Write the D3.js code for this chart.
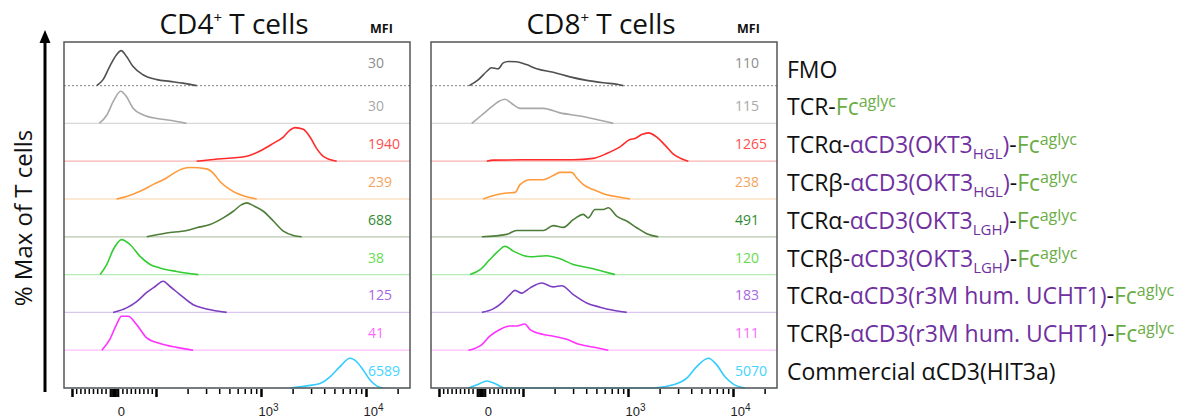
<!DOCTYPE html>
<html>
<head>
<meta charset="utf-8">
<script src="https://cdn.jsdelivr.net/npm/d3@7"></script>
<style>
  body { margin: 0; background: #fff; }
  text { font-family: "Open Sans", sans-serif; }
</style>
</head>
<body>
<script>
// rows, top to bottom
const samples = ['FMO', 'TCR-Fc', 'TCRa-OKT3 HGL', 'TCRb-OKT3 HGL', 'TCRa-OKT3 LGH', 'TCRb-OKT3 LGH', 'TCRa-UCHT1', 'TCRb-UCHT1', 'HIT3a'];
const mfiCD4 = [30, 30, 1940, 239, 688, 38, 125, 41, 6589];
const mfiCD8 = [110, 115, 1265, 238, 491, 120, 183, 111, 5070];

// histograms as [fluorescence, % of max]
const cd4FMO = [[-41,0],[-26,17],[-10,55],[6,88],[17,100],[30,83],[45,55],[69,31],[102,17],[136,12],[181,7],[244,0]];
const cd4TcrFc = [[-35,0],[-17,24],[-2,62],[16,92],[30,76],[45,44],[70,24],[102,14],[136,9],[195,0]];
const cd4AlphaHGL = [[244,0],[349,5],[731,14],[978,29],[1310,51],[1631,69],[1889,89],[2108,96],[2529,91],[2930,69],[3393,36],[3920,14],[5260,0]];
const cd4BetaHGL = [[6,0],[30,7],[62,22],[93,41],[126,60],[152,76],[182,87],[211,90],[304,86],[351,74],[407,50],[507,27],[678,9],[910,0]];
const cd4AlphaLGH = [[78,0],[126,11],[196,18],[244,26],[327,35],[437,54],[545,73],[655,92],[731,97],[845,89],[1052,73],[1310,45],[1631,16],[2030,4],[2441,0]];
const cd4BetaLGH = [[-33,0],[-17,29],[-2,71],[18,100],[38,86],[62,52],[86,29],[109,19],[157,9],[253,0]];
const cd4AlphaUCHT1 = [[-2,0],[30,13],[54,31],[78,57],[98,74],[117,89],[136,74],[169,51],[226,22],[304,10],[471,0]];
const cd4BetaUCHT1 = [[-29,0],[-10,31],[6,73],[18,97],[34,97],[54,73],[78,35],[109,19],[157,8],[226,0]];
const cd4HIT3a = [[1889,0],[2725,6],[3647,13],[4542,32],[5655,61],[7043,85],[8150,75],[9420,51],[10920,23],[12640,6],[14620,0]];

const cd8FMO = [[-28,0],[-6,17],[14,41],[25,51],[41,48],[53,65],[65,69],[85,68],[108,60],[135,48],[194,38],[280,25],[404,15],[582,8],[809,3],[900,0]];
const cd8TcrFc = [[-22,0],[2,24],[25,47],[41,62],[57,69],[73,57],[93,43],[156,43],[225,30],[349,21],[503,11],[724,0]];
const cd8AlphaHGL = [[14,0],[29,3],[117,4],[299,4],[467,8],[627,22],[839,41],[1045,62],[1166,65],[1350,76],[1561,81],[1877,69],[2250,46],[2703,20],[3365,5],[3753,0]];
const cd8BetaHGL = [[5,0],[37,12],[61,17],[81,19],[93,41],[117,55],[156,55],[194,67],[225,76],[291,76],[325,60],[375,41],[467,27],[627,12],[839,5],[1045,0]];
const cd8AlphaLGH = [[2,0],[61,7],[85,18],[156,18],[194,32],[242,27],[301,49],[375,64],[419,54],[485,78],[582,78],[649,83],[780,59],[972,45],[1210,26],[1507,9],[1944,0]];
const cd8BetaLGH = [[-26,0],[-2,14],[21,43],[41,67],[57,81],[77,67],[117,51],[168,54],[225,45],[301,29],[434,19],[582,9],[752,0]];
const cd8AlphaUCHT1 = [[2,0],[29,10],[53,31],[69,51],[81,63],[97,55],[117,70],[151,84],[194,73],[234,76],[301,51],[404,27],[541,15],[724,6],[972,0]];
const cd8BetaUCHT1 = [[-30,0],[2,16],[21,40],[45,59],[69,69],[85,69],[104,75],[117,59],[156,45],[194,40],[261,31],[349,16],[503,7],[649,0]];
const cd8HIT3a = [[-30,0],[-6,11],[14,20],[33,13],[57,0],[1742,0],[2700,9],[3622,28],[4510,61],[5818,85],[6993,66],[8390,32],[10070,11],[13000,0]];

const histCD4 = [cd4FMO, cd4TcrFc, cd4AlphaHGL, cd4BetaHGL, cd4AlphaLGH, cd4BetaLGH, cd4AlphaUCHT1, cd4BetaUCHT1, cd4HIT3a];
const histCD8 = [cd8FMO, cd8TcrFc, cd8AlphaHGL, cd8BetaHGL, cd8AlphaLGH, cd8BetaLGH, cd8AlphaUCHT1, cd8BetaUCHT1, cd8HIT3a];

// axis ticks
const majorTicks = [-100, 0, 100, 1000, 10000];
const majorLabels = ['', '0', '', '10^3', '10^4'];
const zeroTicks = [-10, -8, -6, -4, -2, 0, 2, 4, 6, 8, 10];
const minorTicks = [-90, -80, -70, -60, -50, -40, -30, -20, 20, 30, 40, 50, 60, 70, 80, 90,
  200, 300, 400, 500, 600, 700, 800, 900, 2000, 3000, 4000, 5000, 6000, 7000, 8000, 9000, 20000];

// legend text pieces: [text, colour key, position]
const legendRows = [
  [['FMO', 'k']],
  [['TCR-', 'k'], ['Fc', 'g'], ['aglyc', 'g', 'sup']],
  [['TCRα-', 'k'], ['αCD3(OKT3', 'p'], ['HGL', 'p', 'sub'], [')', 'p'], ['-', 'k'], ['Fc', 'g'], ['aglyc', 'g', 'sup']],
  [['TCRβ-', 'k'], ['αCD3(OKT3', 'p'], ['HGL', 'p', 'sub'], [')', 'p'], ['-', 'k'], ['Fc', 'g'], ['aglyc', 'g', 'sup']],
  [['TCRα-', 'k'], ['αCD3(OKT3', 'p'], ['LGH', 'p', 'sub'], [')', 'p'], ['-', 'k'], ['Fc', 'g'], ['aglyc', 'g', 'sup']],
  [['TCRβ-', 'k'], ['αCD3(OKT3', 'p'], ['LGH', 'p', 'sub'], [')', 'p'], ['-', 'k'], ['Fc', 'g'], ['aglyc', 'g', 'sup']],
  [['TCRα-', 'k'], ['αCD3(r3M hum. UCHT1)', 'p'], ['-', 'k'], ['Fc', 'g'], ['aglyc', 'g', 'sup']],
  [['TCRβ-', 'k'], ['αCD3(r3M hum. UCHT1)', 'p'], ['-', 'k'], ['Fc', 'g'], ['aglyc', 'g', 'sup']],
  [['Commercial αCD3(HIT3a)', 'k']]
];
const textColors = { k: '#111', p: '#7030a0', g: '#6aad45' };

const lineColors = ['#505050', '#a8a8a8', '#ff2b2b', '#ff9a3c', '#4e7d3a', '#33cc33', '#7d3fc2', '#ff33ff', '#33ccff'];
const baseColors = ['#9a9a9a', '#d8d8d8', '#f7b3b3', '#fbd2aa', '#b8c8b0', '#b5ecb5', '#d9c6ef', '#ffbfff', '#c0efff'];
const mfiColors = ['#8c8c8c', '#a8a8a8', '#ff4d4d', '#f5a35e', '#2f8a2f', '#66dd4d', '#a566e6', '#ff66ff', '#45d3ff'];

const W = 1188, H = 419;
const plotTop = 42, plotBottom = 388, pw = 346;
const rowStep = 37.8;
const panels = [
  { x0: 64, title: 'CD4', hist: histCD4, mfi: mfiCD4 },
  { x0: 431, title: 'CD8', hist: histCD8, mfi: mfiCD8 }
];

// biexponential-like display transform (decades)
function biex(v) {
  if (v >= 100) return Math.log10(v);
  if (v <= -100) return 1.2 - Math.log10(-v / 100);
  return 1.6 + 0.004 * v;
}

const x = d3.scaleLinear().domain([1.124, 4.419]).range([0, pw]);
const h = d3.scaleLinear().domain([0, 100]).range([0, 35]);
const rowBase = i => plotBottom - rowStep * (samples.length - 1 - i);

const svg = d3.select('body').append('svg')
  .attr('width', W)
  .attr('height', H);

panels.forEach(p => {
  const g = svg.append('g').attr('transform', `translate(${p.x0},0)`);

  p.hist.forEach((pts, i) => {
    const base = rowBase(i);
    g.append('line')
      .attr('x1', 0).attr('x2', pw)
      .attr('y1', base).attr('y2', base)
      .attr('stroke', baseColors[i])
      .attr('stroke-width', 1.2)
      .attr('stroke-dasharray', i === 0 ? '2,2' : null);
    const line = d3.line()
      .x(d => x(biex(d[0])))
      .y(d => base - h(d[1]))
      .curve(d3.curveMonotoneX);
    g.append('path')
      .attr('d', line(pts))
      .attr('fill', 'none')
      .attr('stroke', lineColors[i])
      .attr('stroke-width', 1.6);
    g.append('text')
      .attr('x', 304)
      .attr('y', base - (i === 0 ? 18 : 12))
      .attr('font-size', 14)
      .attr('fill', mfiColors[i])
      .text(p.mfi[i]);
  });

  g.append('rect')
    .attr('x', 0).attr('y', plotTop)
    .attr('width', pw).attr('height', plotBottom - plotTop)
    .attr('fill', 'none')
    .attr('stroke', '#555')
    .attr('stroke-width', 1.5);

  const t = g.append('text')
    .attr('x', 170).attr('y', 34)
    .attr('text-anchor', 'middle')
    .attr('font-size', 28)
    .attr('fill', '#111');
  t.append('tspan').text(p.title);
  t.append('tspan').attr('font-size', 15).attr('dy', -11).text('+');
  t.append('tspan').attr('dy', 11).text(' T cells');

  g.append('text')
    .attr('x', 306).attr('y', 33)
    .attr('font-size', 12.5)
    .attr('font-weight', 'bold')
    .attr('fill', '#111')
    .text('MFI');

  // axes
  const minorAxis = d3.axisBottom(x).tickValues(minorTicks.map(biex)).tickSize(5).tickFormat('');
  g.append('g').attr('transform', `translate(0,${plotBottom + 1})`)
    .call(minorAxis)
    .call(a => a.select('.domain').remove())
    .call(a => a.selectAll('line').attr('stroke-width', 1.5));

  const zeroAxis = d3.axisBottom(x).tickValues(zeroTicks.map(biex)).tickSize(8).tickFormat('');
  g.append('g').attr('transform', `translate(0,${plotBottom + 1})`)
    .call(zeroAxis)
    .call(a => a.select('.domain').remove())
    .call(a => a.selectAll('line').attr('stroke-width', 1.3));

  const majorAxis = d3.axisBottom(x).tickValues(majorTicks.map(biex)).tickSize(8)
    .tickFormat((d, i) => majorLabels[i]);
  g.append('g').attr('transform', `translate(0,${plotBottom + 1})`)
    .call(majorAxis)
    .call(a => a.select('.domain').remove())
    .call(a => a.selectAll('line').attr('stroke-width', 2.5))
    .call(a => a.selectAll('text')
      .attr('y', 18)
      .attr('dx', 7)
      .attr('fill', '#222')
      .style('font-family', '"Liberation Sans", Arial, sans-serif')
      .style('font-size', '13px')
      .each(function (d, i) {
        const lab = majorLabels[i];
        const el = d3.select(this).text(null);
        if (!lab) return;
        const parts = lab.split('^');
        el.append('tspan').text(parts[0]);
        if (parts[1]) el.append('tspan').style('font-size', '10px').attr('dy', -5).text(parts[1]);
      }));
});

// legend
legendRows.forEach((segs, i) => {
  const t = svg.append('text')
    .attr('x', 787)
    .attr('y', rowBase(i) - 8)
    .attr('font-size', 23);
  let shift = 0;
  segs.forEach(s => {
    const span = t.append('tspan').attr('fill', textColors[s[1]]).text(s[0]);
    let target = 0;
    if (s[2] === 'sub') { target = 6; span.attr('font-size', 15); }
    if (s[2] === 'sup') { target = -8; span.attr('font-size', 16); }
    if (target !== shift) { span.attr('dy', target - shift); shift = target; }
  });
});

// y axis arrow and label
svg.append('line')
  .attr('x1', 45).attr('x2', 45)
  .attr('y1', 42).attr('y2', 392)
  .attr('stroke', '#000')
  .attr('stroke-width', 3);
svg.append('path')
  .attr('d', 'M45,30 L39.5,43 L50.5,43 Z')
  .attr('fill', '#000');
svg.append('text')
  .attr('transform', 'translate(32,218) rotate(-90)')
  .attr('text-anchor', 'middle')
  .attr('font-size', 24)
  .attr('fill', '#111')
  .text('% Max of T cells');
</script>
</body>
</html>
